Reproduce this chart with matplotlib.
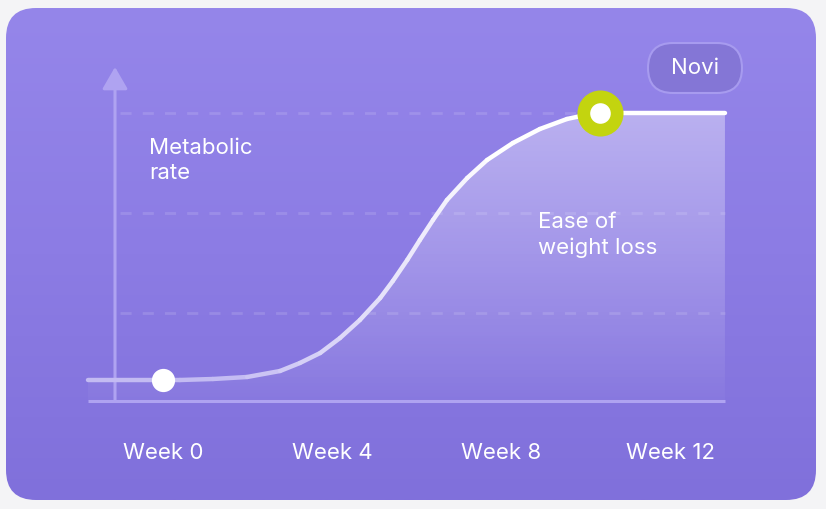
import numpy as np
import matplotlib
matplotlib.use("Agg")
import matplotlib.pyplot as plt
from matplotlib.patches import FancyBboxPatch, Polygon
from matplotlib.collections import LineCollection
from matplotlib.colors import LinearSegmentedColormap

plt.rcParams['font.family'] = ['Inter', 'DejaVu Sans']

# curve: week vs. metabolic rate (arbitrary units, grid at 1, 2, 3)
weeks = [-1.78, 0, 0.40, 1.18, 1.99, 2.77, 3.24, 3.72, 4.19, 4.66, 5.14, 5.44,
         5.78, 6.08, 6.39, 6.72, 7.20, 7.67, 8.28, 8.92, 9.56, 10.11, 10.34, 13.30]
levels = [0.33, 0.33, 0.33, 0.34, 0.36, 0.42, 0.50, 0.60, 0.75, 0.93, 1.15, 1.32,
          1.53, 1.73, 1.93, 2.13, 2.35, 2.53, 2.70, 2.84, 2.94, 2.99, 3.00, 3.00]
start_point = (0, 0.33)
peak_point = (10.34, 3.00)
tick_weeks = [0, 4, 8, 12]
tick_labels = ["Week 0", "Week 4", "Week 8", "Week 12"]
grid_levels = [1, 2, 3]

W, H = 826, 509
fig = plt.figure(figsize=(W / 100, H / 100), dpi=100)
fig.patch.set_facecolor("#f4f4f6")

# background card, in pixel coordinates
bg = fig.add_axes([0, 0, 1, 1])
bg.set_xlim(0, W)
bg.set_ylim(H, 0)
bg.axis("off")
card = FancyBboxPatch((6, 8), 810, 492, boxstyle="round,pad=0,rounding_size=30",
                      facecolor="none", edgecolor="none")
bg.add_patch(card)
card_cmap = LinearSegmentedColormap.from_list("card", ["#9586ea", "#8c7ce4", "#8070db"])
grad = np.linspace(0, 1, 256).reshape(-1, 1)
im = bg.imshow(grad, cmap=card_cmap, extent=(6, 816, 500, 8), aspect="auto", zorder=1)
im.set_clip_path(card)

pill = FancyBboxPatch((648, 43), 94, 50, boxstyle="round,pad=0,rounding_size=25",
                      facecolor="#8476d6", edgecolor="#a79bef", lw=1.5, zorder=2)
bg.add_patch(pill)
bg.text(695, 68, "Novi", color="white", fontsize=16, ha="center", va="center", zorder=3)

# chart axes, in data coordinates
ax = fig.add_axes([0, 0, 1, 1], facecolor="none")
xlim, ylim = (-3.858, 15.692), (-0.96, 4.13)
ax.axis("off")

x_left, x_right = weeks[0], weeks[-1]
base = 0.12

# dashed guide lines
ax.hlines(grid_levels, -1.02, x_right, colors="white", alpha=0.13, lw=2,
          linestyles=(0, (4, 4)), zorder=2)

# gradient fill under curve, strongest at the top
poly_pts = list(zip(weeks, levels)) + [(x_right, base), (x_left, base)]
poly = Polygon(poly_pts, closed=True, facecolor="none", edgecolor="none")
ax.add_patch(poly)
rgba = np.ones((256, 1, 4))
rgba[:, 0, 3] = np.linspace(0.38, 0.03, 256)
fill_im = ax.imshow(rgba, extent=(x_left, x_right, base, max(levels)),
                    aspect="auto", zorder=3, origin="upper")
fill_im.set_clip_path(poly)
ax.set_xlim(*xlim)
ax.set_ylim(*ylim)

# axes lines
axis_col = "#afa3f1"
ax.plot([x_left, x_right], [base, base], color=axis_col, lw=2.2, solid_capstyle="butt", zorder=4)
ax.annotate("", xy=(-1.136, 3.46), xytext=(-1.136, base),
            arrowprops=dict(arrowstyle="-|>,head_length=1.35,head_width=0.78",
                            mutation_scale=10, color=axis_col, lw=2.2,
                            shrinkA=0, shrinkB=0), zorder=4)

# curve: faint on the left, solid white on the right
pts = np.column_stack([weeks, levels])
segs = np.stack([pts[:-1], pts[1:]], axis=1)
mids = (pts[:-1, 0] + pts[1:, 0]) / 2
t = np.clip(0.45 + 0.55 * (mids - 1.5) / 6.5, 0.45, 1.0)
purple = np.array([146, 131, 232]) / 255
colors = [tuple(purple + (1 - purple) * a) for a in t]
lc = LineCollection(segs, colors=colors, linewidths=3.2, capstyle="round",
                    joinstyle="round", zorder=5)
ax.add_collection(lc)

# markers
ax.scatter(*start_point, s=280, color="white", zorder=6, linewidths=0)
ax.scatter(*peak_point, s=1100, color="#c3d40f", zorder=6, linewidths=0)
ax.scatter(*peak_point, s=220, color="white", zorder=7, linewidths=0)

# labels
for w, lab in zip(tick_weeks, tick_labels):
    ax.text(w, -0.40, lab, color="white", fontsize=16, ha="center", va="center", zorder=6)
ax.text(-0.33, 2.525, "Metabolic\nrate", color="white", fontsize=16, ha="left",
        va="center", linespacing=1.3, zorder=6)
ax.text(8.876, 1.78, "Ease of\nweight loss", color="white", fontsize=16, ha="left",
        va="center", linespacing=1.3, zorder=6)

fig.savefig("out.png", dpi=100, facecolor=fig.get_facecolor())
